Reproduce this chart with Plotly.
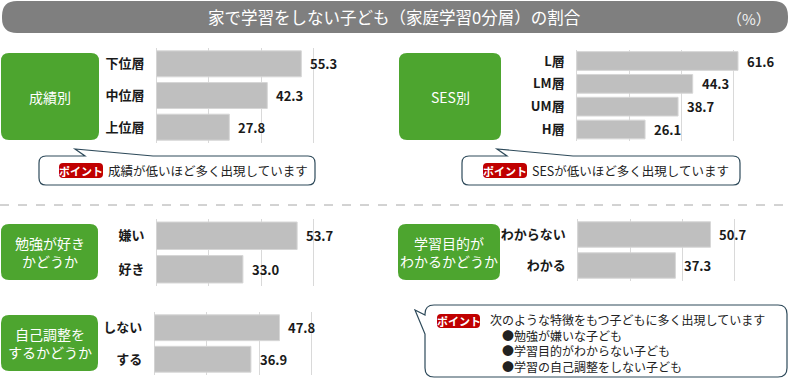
import plotly.graph_objects as go

W, H = 800, 388
FONT = "Noto Sans CJK JP"

# ---- data ----
grade_cats = ["下位層", "中位層", "上位層"]
grade_vals = [55.3, 42.3, 27.8]
ses_cats = ["L層", "LM層", "UM層", "H層"]
ses_vals = [61.6, 44.3, 38.7, 26.1]
like_cats = ["嫌い", "好き"]
like_vals = [53.7, 33.0]
self_cats = ["しない", "する"]
self_vals = [47.8, 36.9]
purpose_cats = ["わからない", "わかる"]
purpose_vals = [50.7, 37.3]

title_text = "家で学習をしない子ども（家庭学習0分層）の割合"
unit_text = "（%）"
group_labels = ["成績別", "SES別", "勉強が好き<br>かどうか", "自己調整を<br>するかどうか", "学習目的が<br>わかるかどうか"]
point_texts = ["成績が低いほど多く出現しています", "SESが低いほど多く出現しています"]
point_main = "次のような特徴をもつ子どもに多く出現しています"
point_bullets = ["●勉強が嫌いな子ども", "●学習目的がわからない子ども", "●学習の自己調整をしない子ども"]

def X(px):
    return px / W

def Y(py):
    return 1 - py / H

def P(px, py):
    return f"{X(px):.5f},{Y(py):.5f}"

def rrect_path(x0, y0, x1, y1, r):
    return (f"M{P(x0+r,y0)} L{P(x1-r,y0)} Q{P(x1,y0)} {P(x1,y0+r)} "
            f"L{P(x1,y1-r)} Q{P(x1,y1)} {P(x1-r,y1)} L{P(x0+r,y1)} "
            f"Q{P(x0,y1)} {P(x0,y1-r)} L{P(x0,y0+r)} Q{P(x0,y0)} {P(x0+r,y0)} Z")

def callout_top(x0, y0, x1, y1, r, ta, tip, tb):
    return (f"M{P(x0+r,y0)} L{P(ta,y0)} L{P(*tip)} L{P(tb,y0)} L{P(x1-r,y0)} "
            f"Q{P(x1,y0)} {P(x1,y0+r)} L{P(x1,y1-r)} Q{P(x1,y1)} {P(x1-r,y1)} "
            f"L{P(x0+r,y1)} Q{P(x0,y1)} {P(x0,y1-r)} L{P(x0,y0+r)} Q{P(x0,y0)} {P(x0+r,y0)} Z")

def callout_left(x0, y0, x1, y1, r, ta, tip, tb):
    return (f"M{P(x0+r,y0)} L{P(x1-r,y0)} Q{P(x1,y0)} {P(x1,y0+r)} "
            f"L{P(x1,y1-r)} Q{P(x1,y1)} {P(x1-r,y1)} L{P(x0+r,y1)} "
            f"Q{P(x0,y1)} {P(x0,y1-r)} L{P(x0,tb)} L{P(*tip)} L{P(x0,ta)} "
            f"L{P(x0,y0+r)} Q{P(x0,y0)} {P(x0+r,y0)} Z")

def note(px, py, text, size, color, xanchor="center", weight=None):
    f = dict(family=FONT, size=size, color=color)
    if weight:
        f["weight"] = weight
    return dict(x=X(px), y=Y(py), xref="paper", yref="paper", text=text, showarrow=False,
                xanchor=xanchor, yanchor="middle", align="left" if xanchor == "left" else "center",
                font=f)

fig = go.Figure()

panels = [
    (grade_cats, grade_vals, (156.5, 366.0), (48, 143)),
    (ses_cats, ses_vals, (576.7, 786.2), (49.5, 141)),
    (like_cats, like_vals, (156.5, 366.0), (219, 286)),
    (self_cats, self_vals, (154.3, 363.8), (312, 375)),
    (purpose_cats, purpose_vals, (577.7, 787.2), (219, 281)),
]

annotations = []
shapes = []
layout_axes = {}
for i, (cats, vals, (xl, xr), (yt, yb)) in enumerate(panels, start=1):
    xa = "x" if i == 1 else f"x{i}"
    ya = "y" if i == 1 else f"y{i}"
    fig.add_trace(go.Bar(
        x=vals, y=cats, orientation="h", xaxis=xa, yaxis=ya,
        marker=dict(color="#BFBFBF", line=dict(color="#D6D6D6", width=1)),
        width=0.82, hoverinfo="skip", showlegend=False,
    ))
    xkey = "xaxis" if i == 1 else f"xaxis{i}"
    ykey = "yaxis" if i == 1 else f"yaxis{i}"
    layout_axes[xkey] = dict(
        domain=[X(xl), X(xr)], range=[0, 80], dtick=20, anchor=ya,
        showgrid=True, gridcolor="#D9D9D9", gridwidth=1,
        zeroline=True, zerolinecolor="#D9D9D9", zerolinewidth=1,
        showticklabels=False, showline=False, fixedrange=True,
    )
    layout_axes[ykey] = dict(
        domain=[Y(yb), Y(yt)], anchor=xa, autorange="reversed",
        showgrid=False, zeroline=False, showline=False, ticks="",
        ticklabelstandoff=11,
        tickfont=dict(family=FONT, size=13, color="#1A1A1A", weight=700),
        fixedrange=True,
    )
    for c, v in zip(cats, vals):
        annotations.append(dict(
            x=v, y=c, xref=xa, yref=ya, text=f"{v:.1f}", showarrow=False,
            xanchor="left", yanchor="middle", xshift=7,
            font=dict(family=FONT, size=13, color="#1A1A1A", weight=700),
        ))

# title bar
shapes.append(dict(type="path", path=rrect_path(2, 1, 788, 33, 15),
                   xref="paper", yref="paper", fillcolor="#7F7F7F", line=dict(width=0), layer="below"))
annotations.append(note(394, 17, title_text, 16.5, "white"))
annotations.append(note(749, 18, unit_text, 15, "#F2F2F2"))

# green boxes
GREEN = "#4DA52F"
boxes = [(1, 53, 99, 140), (399, 53, 501, 140), (1, 224, 98, 280), (1, 315, 98, 371), (398, 224, 500, 280)]
for (x0, y0, x1, y1), lab in zip(boxes, group_labels):
    shapes.append(dict(type="path", path=rrect_path(x0, y0, x1, y1, 8),
                       xref="paper", yref="paper", fillcolor=GREEN, line=dict(width=0), layer="below"))
    annotations.append(note((x0 + x1) / 2, (y0 + y1) / 2, lab, 14, "white"))

# dashed separator
shapes.append(dict(type="line", x0=X(0), x1=X(787), y0=Y(205), y1=Y(205), xref="paper", yref="paper",
                   line=dict(color="#A6A6A6", width=1, dash="dash")))

BORDER = "#2E4A5A"
RED = "#C00000"
shapes.append(dict(type="path", path=callout_top(39, 156, 315, 185, 7, 85, (75, 149), 153),
                   xref="paper", yref="paper", fillcolor="white", line=dict(color=BORDER, width=1.2)))
shapes.append(dict(type="path", path=callout_top(462, 156, 740, 185, 7, 507, (497, 149), 573),
                   xref="paper", yref="paper", fillcolor="white", line=dict(color=BORDER, width=1.2)))
shapes.append(dict(type="path", path=callout_left(425, 305, 787, 377, 9, 315, (415, 310), 334),
                   xref="paper", yref="paper", fillcolor="white", line=dict(color=BORDER, width=1.2)))

badges = [(59, 163, 103, 178), (483, 163, 527, 178), (437, 314, 480, 328)]
for (x0, y0, x1, y1) in badges:
    shapes.append(dict(type="path", path=rrect_path(x0, y0, x1, y1, 4),
                       xref="paper", yref="paper", fillcolor=RED, line=dict(width=0)))
    annotations.append(note((x0 + x1) / 2, (y0 + y1) / 2, "ポイント", 11, "white", weight=700))

annotations.append(note(106, 170.5, point_texts[0], 12.5, "#222222", xanchor="left"))
annotations.append(note(530, 170.5, point_texts[1], 12.5, "#222222", xanchor="left"))
block = "<br>".join([point_main] + ["\u3000" + b for b in point_bullets])
annotations.append(note(488, 342.5, block, 12, "#222222", xanchor="left"))

fig.update_layout(
    width=W, height=H, margin=dict(l=0, r=0, t=0, b=0),
    paper_bgcolor="white", plot_bgcolor="rgba(0,0,0,0)",
    shapes=shapes, annotations=annotations,
    **layout_axes,
)

fig.write_html("out.html", config={"displayModeBar": False})
